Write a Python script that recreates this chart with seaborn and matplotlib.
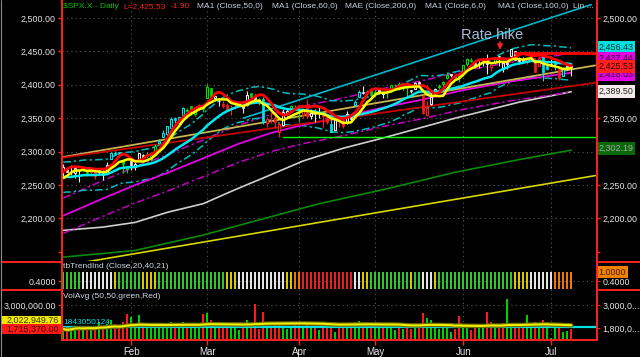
import numpy as np
import pandas as pd
import matplotlib
matplotlib.use("Agg")
import matplotlib.pyplot as plt
from matplotlib.lines import Line2D
from matplotlib.patches import Rectangle
import seaborn as sns

# ------------------------------------------------------------------ data
start_date, end_date = "2017-01-06", "2017-07-11"
holidays = ["2017-01-16", "2017-02-20", "2017-04-14", "2017-05-29", "2017-07-04"]

# values before the first visible bar (warm-up of the short averages)
prior_closes = [2191.08, 2191.95, 2204.71, 2212.23, 2241.35, 2246.19, 2259.53, 2256.96,
                2271.72, 2253.28, 2262.03, 2258.07, 2262.53, 2270.76, 2265.18, 2260.96,
                2263.79, 2268.88, 2249.92, 2249.26, 2238.83, 2257.83, 2270.75, 2269.00]
prior_highs = [2253.6, 2263.9, 2272.8, 2271.8]

opens = [2271.1, 2273.6, 2269.0, 2268.6, 2271.1, 2272.7, 2269.1, 2269.1, 2271.9, 2269.0,
         2267.8, 2267.9, 2288.9, 2298.6, 2299.0, 2286.0, 2274.0,
         2285.6, 2276.7, 2288.5, 2294.3, 2295.9, 2289.6, 2296.7, 2312.7, 2321.7, 2326.1,
         2335.6, 2349.6, 2343.0, 2354.9, 2361.1, 2367.5, 2355.7, 2366.1, 2366.1,
         2380.1, 2394.8, 2380.9, 2375.2, 2370.7, 2369.8, 2363.5, 2372.5, 2371.6, 2368.6,
         2370.3, 2387.7, 2383.7, 2378.2, 2379.3, 2343.0, 2345.1, 2350.4, 2329.1, 2339.8,
         2356.5, 2361.3, 2364.8,
         2362.3, 2354.8, 2366.6, 2353.8, 2356.6, 2357.2, 2353.9, 2352.1, 2341.9, 2332.6,
         2342.5, 2346.8, 2342.7, 2354.7, 2370.3, 2381.5, 2389.0, 2389.7, 2393.7,
         2388.5, 2391.1, 2386.5, 2389.8, 2392.4, 2399.9, 2401.6, 2396.8, 2394.8, 2392.4,
         2394.0, 2404.6, 2383.0, 2354.7, 2371.4, 2387.2, 2397.0, 2401.4, 2409.5, 2414.5,
         2411.7, 2415.6,
         2415.6, 2431.3, 2437.8, 2431.9, 2432.0, 2434.3, 2436.4, 2425.9, 2434.2, 2443.8,
         2424.1, 2431.2, 2442.5, 2450.7, 2439.3, 2437.4, 2434.7, 2443.3, 2436.3, 2428.7,
         2442.4, 2429.2,
         2431.4, 2430.9, 2423.4, 2413.5, 2424.5, 2427.4]
highs = [2282.1, 2275.5, 2279.3, 2275.3, 2271.8, 2278.7, 2272.1, 2272.0, 2274.3, 2276.1,
         2271.8, 2284.6, 2299.6, 2300.4, 2299.0, 2286.0, 2279.1,
         2289.1, 2283.9, 2298.3, 2296.2, 2299.4, 2295.9, 2311.1, 2319.2, 2331.6, 2337.6,
         2351.3, 2351.3, 2351.2, 2366.7, 2365.1, 2368.3, 2367.3, 2371.5, 2367.8,
         2401.0, 2394.8, 2383.9, 2378.8, 2375.1, 2373.1, 2369.1, 2376.9, 2374.4, 2368.6,
         2390.0, 2388.1, 2385.7, 2379.6, 2381.9, 2351.8, 2358.9, 2356.2, 2344.9, 2363.8,
         2363.4, 2370.4, 2370.4,
         2365.9, 2360.5, 2378.4, 2364.2, 2363.8, 2366.4, 2355.2, 2352.7, 2348.3, 2349.1,
         2348.4, 2352.6, 2361.4, 2356.2, 2377.0, 2392.5, 2398.2, 2392.1, 2393.7,
         2394.5, 2392.9, 2389.8, 2391.4, 2399.3, 2401.4, 2403.9, 2399.7, 2395.7, 2392.9,
         2404.1, 2405.8, 2384.9, 2375.7, 2389.1, 2395.5, 2400.9, 2405.6, 2418.7, 2416.7,
         2415.3, 2416.0,
         2430.1, 2440.2, 2439.5, 2436.2, 2435.3, 2439.6, 2446.2, 2430.4, 2441.5, 2443.8,
         2433.95, 2433.15, 2453.8, 2450.7, 2442.2, 2441.6, 2441.4, 2450.4, 2440.2, 2442.97,
         2442.7, 2432.7,
         2439.2, 2435.8, 2424.3, 2426.9, 2432.0, 2429.3]
lows = [2264.1, 2268.8, 2265.3, 2260.8, 2254.3, 2271.5, 2262.8, 2263.4, 2258.4, 2265.0,
        2257.0, 2266.7, 2288.9, 2294.3, 2291.6, 2268.0, 2267.2,
        2271.7, 2271.7, 2287.9, 2288.6, 2290.2, 2285.4, 2296.6, 2311.1, 2321.4, 2322.2,
        2334.8, 2338.9, 2339.6, 2354.4, 2358.3, 2355.1, 2352.9, 2361.9, 2358.9,
        2380.1, 2380.2, 2375.1, 2368.0, 2365.5, 2361.0, 2354.5, 2363.0, 2368.5, 2358.2,
        2368.9, 2377.2, 2377.6, 2369.7, 2341.9, 2336.5, 2342.1, 2335.7, 2322.3, 2337.6,
        2352.9, 2358.6, 2362.6,
        2344.7, 2350.7, 2350.5, 2348.9, 2344.5, 2350.9, 2337.3, 2341.2, 2328.9, 2332.5,
        2337.3, 2335.1, 2340.9, 2344.5, 2369.2, 2381.2, 2386.8, 2382.7, 2382.4,
        2382.4, 2385.8, 2379.8, 2380.3, 2389.4, 2393.6, 2392.4, 2392.8, 2381.7, 2387.6,
        2393.9, 2396.1, 2356.2, 2352.7, 2370.4, 2386.9, 2393.9, 2398.0, 2408.0, 2412.2,
        2409.4, 2403.6,
        2413.5, 2427.7, 2434.3, 2428.1, 2424.8, 2427.4, 2415.7, 2420.0, 2431.3, 2428.3,
        2418.5, 2422.9, 2441.8, 2436.6, 2430.7, 2433.3, 2431.1, 2437.6, 2419.4, 2428.0,
        2405.7, 2421.6,
        2428.7, 2421.9, 2407.7, 2413.5, 2422.3, 2412.8]
closes = [2276.98, 2268.90, 2268.90, 2275.32, 2270.44, 2274.64, 2267.89, 2271.89, 2263.69, 2271.31,
          2265.20, 2280.07, 2298.37, 2296.68, 2294.69, 2280.90, 2278.87,
          2279.55, 2280.85, 2297.42, 2292.56, 2293.08, 2294.67, 2307.87, 2316.10, 2328.25, 2337.58,
          2349.25, 2347.22, 2351.16, 2365.38, 2362.82, 2363.81, 2367.34, 2369.75, 2363.64,
          2395.96, 2381.92, 2383.12, 2375.31, 2368.39, 2362.98, 2364.87, 2372.60, 2373.47, 2365.45,
          2385.26, 2381.38, 2378.25, 2373.47, 2344.02, 2348.45, 2345.96, 2343.98, 2341.59, 2358.57,
          2361.13, 2368.06, 2362.72,
          2358.84, 2360.16, 2352.95, 2357.49, 2355.54, 2357.16, 2353.78, 2344.93, 2328.95, 2349.01,
          2342.19, 2338.17, 2355.84, 2348.69, 2374.15, 2388.61, 2387.45, 2388.77, 2384.20,
          2388.33, 2391.17, 2388.13, 2389.52, 2399.29, 2399.38, 2396.92, 2399.63, 2394.44, 2390.90,
          2402.32, 2400.67, 2357.03, 2365.72, 2381.73, 2394.02, 2398.42, 2404.39, 2415.07, 2415.82,
          2412.91, 2411.80,
          2430.06, 2439.07, 2436.10, 2429.33, 2433.14, 2433.79, 2431.77, 2429.39, 2440.35, 2437.92,
          2432.46, 2433.15, 2453.46, 2437.03, 2435.61, 2434.50, 2438.30, 2439.07, 2419.38, 2440.69,
          2419.70, 2423.41,
          2429.01, 2432.54, 2409.75, 2425.18, 2427.43, 2425.53]
# volume in millions
volumes_m = [1.75, 1.65, 1.80, 1.90, 1.85, 1.70, 1.90, 1.75, 1.80, 2.10,
             1.85, 2.00, 2.20, 2.00, 1.80, 2.10, 2.55,
             2.35, 2.00, 2.45, 1.80, 1.90, 1.85, 2.00, 1.90, 1.85, 1.95,
             2.10, 2.00, 2.05, 2.10, 1.90, 2.00, 1.95, 1.80, 2.55,
             2.60, 2.20, 1.90, 1.85, 1.80, 1.90, 2.00, 2.00, 1.70, 1.90,
             2.20, 1.90, 3.05, 1.75, 2.65, 2.10, 1.90, 1.95, 2.00, 1.90,
             1.75, 1.80, 2.10,
             2.00, 1.80, 2.10, 1.80, 1.80, 1.70, 1.85, 1.80, 1.90, 1.60,
             1.80, 1.85, 1.90, 1.95, 2.10, 2.15, 2.10, 2.00, 2.05,
             1.85, 1.95, 1.90, 2.00, 1.80, 1.70, 1.90, 1.75, 1.85, 1.75,
             1.80, 1.85, 2.60, 2.30, 2.20, 1.80, 1.75, 1.85, 1.90, 1.60,
             1.75, 2.40,
             1.90, 1.95, 1.70, 1.80, 1.85, 1.90, 2.65, 2.10, 1.90, 2.00,
             2.05, 3.30, 1.80, 1.80, 1.90, 1.85, 2.45, 1.90, 2.10, 1.85,
             2.20, 1.95,
             1.30, 1.95, 1.80, 1.60, 1.65, 1.75]
vol_ref_level_m = 1.843050124

# paint-bar colours of the candles (run lengths)
candle_runs = [("W", 5), ("G", 2), ("R", 2), ("W", 3), ("C", 3), ("G", 2), ("W", 4), ("G", 3),
               ("C", 7), ("G", 7), ("W", 2), ("R", 4), ("W", 3), ("G", 1), ("W", 1), ("G", 1),
               ("C", 1), ("R", 4), ("W", 2), ("G", 3), ("R", 2), ("W", 3), ("R", 2), ("C", 1),
               ("W", 1), ("R", 2), ("W", 2), ("C", 2), ("W", 1), ("G", 3), ("W", 2), ("G", 6),
               ("W", 3), ("R", 2), ("W", 2), ("G", 3), ("W", 1), ("G", 5), ("W", 4), ("R", 1),
               ("G", 1), ("W", 7), ("R", 4), ("C", 2), ("W", 1), ("C", 1), ("R", 1), ("C", 1),
               ("W", 2)]
# tbTrendInd colours (run lengths)
trend_runs = [("G", 5), ("W", 8), ("Y", 1), ("G", 6), ("Y", 4), ("G", 17), ("Y", 3), ("W", 12),
              ("Y", 2), ("O", 2), ("R", 13), ("W", 2), ("Y", 2), ("G", 10), ("Y", 1), ("G", 2),
              ("W", 3), ("Y", 1), ("G", 19), ("Y", 4), ("W", 6), ("O", 5)]

# long averages (bar index, value)
ma50_idx = [0, 10, 18, 26, 35, 44, 52, 60, 70, 80, 90, 100, 112, 127]
ma50_val = [2204, 2230, 2250, 2268, 2290, 2312, 2328, 2340, 2352, 2366, 2378, 2392, 2405, 2418.03]
ma100_idx = [0, 10, 18, 26, 35, 43, 51, 60, 70, 81, 98, 114, 127]
ma100_val = [2182, 2187, 2194, 2209, 2222, 2243, 2263, 2286, 2305, 2322, 2350, 2374, 2389.50]
ma200_idx = [0, 18, 35, 51, 64, 80, 98, 114, 127]
ma200_val = [2142, 2152, 2175, 2201, 2222, 2243, 2269, 2288, 2302.19]

# straight trend / regression lines (bar index, value)
reg_idx = [0, 133]
reg_lower_val = [2129, 2264]
reg_mid_val = [2292, 2429]
reg_red_val = [2291, 2403]
cyan_up_idx = [45, 132]
cyan_up_val = [2350, 2520]
support_level, support_from = 2322, 55
hike_level, hike_from = 2447, 113
rate_hike_bar = 109

header_items = [("\\$SPX.X - Daily", "#00c800"), ("L=2,425.53", "#ff2020"), ("-1.90", "#ff2020"),
                ("MA1 (Close,50,0)", "#c8d2dc"), ("MA1 (Close,60,0)", "#c8d2dc"),
                ("MAE (Close,200,0)", "#c8d2dc"), ("MA1 (Close,6,0)", "#c8d2dc"),
                ("MA1 (Close,100,0)", "#c8d2dc"), ("Lin ...", "#c8d2dc")]
header_x = [63, 123, 171, 197, 272, 345, 425, 498, 573]

price_ticks = [2150, 2200, 2250, 2300, 2350, 2400, 2450, 2500]
left_price_labels = ["", "2,200.00", "2,250.00", "2,300.00", "2,350.00", "2,400.00", "2,450.00", "2,500.00"]
right_price_labels = ["", "2,200.00", "2,250.00", "", "2,350.00", "", "", "2,500.00"]
right_boxes = [(2456.43, "2,456.43", "#00e0e0", "#003838"),
               (2439.0, "2,437.44", "#e000e0", "#300030"),
               (2415.5, "2,418.03", "#e000e0", "#300030"),
               (2427.0, "2,425.53", "#ff2020", "#3a0000"),
               (2389.50, "2,389.50", "#f4ecec", "#202020"),
               (2305.0, "2,302.19", "#0a6a0a", "#a8a8a8")]

# ------------------------------------------------------------------ derived
dates = pd.bdate_range(start_date, end_date, freq="C", holidays=holidays)
n = len(closes)
x = np.arange(n)
month_idx, month_lab = [], []
for i in range(1, len(dates)):
    if dates[i].month != dates[i - 1].month:
        month_idx.append(i)
        month_lab.append(dates[i].strftime("%b"))

c_all = pd.Series(prior_closes + closes)
sma6 = c_all.rolling(6).mean().to_numpy()[-n:]
sma18 = c_all.rolling(18).mean().to_numpy()[-n:]
red_ma = (pd.Series(prior_highs + highs).rolling(3).mean()
          .rolling(3).mean().to_numpy()[-n:])
candle_colors = "".join(k * m for k, m in candle_runs)
trend_colors = "".join(k * m for k, m in trend_runs)
vols = np.array(volumes_m) * 1e6
vol_avg = pd.Series(vols).rolling(50, min_periods=1).mean().to_numpy()
prev_close = np.array([prior_closes[-1]] + closes[:-1])

# ------------------------------------------------------------------ style
sns.set_style("dark", {"axes.facecolor": "black", "figure.facecolor": "black", "axes.grid": False})
plt.rcParams["font.family"] = ["Liberation Sans", "DejaVu Sans"]
plt.rcParams["axes.unicode_minus"] = False
plt.rcParams["patch.force_edgecolor"] = False

W, H = 640, 357
fig = plt.figure(figsize=(6.4, 3.57), dpi=100, facecolor="black")


def frect(x0, y0, x1, y1):
    return [x0 / W, 1 - y1 / H, (x1 - x0) / W, (y1 - y0) / H]


ax = fig.add_axes(frect(62, 0, 596, 261))
axt = fig.add_axes(frect(62, 261, 596, 289))
axv = fig.add_axes(frect(62, 289, 596, 339))
XL = (-0.3, 133.2)
YL_MAIN = (2136.2, 2526.9)
YL_T = (-0.08, 1.70)
YL_V = (1.226e6, 3.83e6)

RED = "#ff2020"
LBL = "#e6e6e6"
GRID = "#5a5a5a"
FS = 6.4
HFS = 6.05
dot = (0, (1, 3))
dashdot = (0, (5, 2, 1.5, 2))


def line(a, xs, ys, **kw):
    sns.lineplot(x=np.asarray(xs, float), y=np.asarray(ys, float), ax=a,
                 estimator=None, sort=False, legend=False, **kw)


for a in (ax, axt, axv):
    a.set_facecolor("black")
    for s in a.spines.values():
        s.set_visible(False)
    for mi in month_idx:
        a.axvline(mi, color=GRID, lw=0.8, ls=dot, zorder=0.5)

# ------------------------------------------------------------------ main panel
for lv in price_ticks[1:]:
    ax.axhline(lv, color=GRID, lw=0.8, ls=dot, zorder=0.5)

ma50_arr = np.array(ma50_val)
line(ax, ma200_idx, ma200_val, color="#0a8a0a", lw=1.2, zorder=2)
line(ax, ma100_idx, ma100_val, color="#cfcfcf", lw=1.2, zorder=2)
line(ax, reg_idx, reg_lower_val, color="#d8d800", lw=1.2, zorder=2)
line(ax, ma50_idx, ma50_arr * 1.012, color="#c400c4", lw=1.1, ls=dashdot, zorder=2)
line(ax, ma50_idx, ma50_arr * 0.988, color="#c400c4", lw=1.1, ls=dashdot, zorder=2)
line(ax, ma50_idx, ma50_arr, color="#e600e6", lw=1.3, zorder=2.1)
line(ax, x, sma18 * 1.01, color="#00bcbc", lw=1.1, ls=dashdot, zorder=2)
line(ax, x, sma18 * 0.99, color="#00bcbc", lw=1.1, ls=dashdot, zorder=2)
line(ax, reg_idx, reg_mid_val, color="#c8b450", lw=1.3, zorder=2.2)
line(ax, reg_idx, reg_red_val, color="#c80000", lw=1.3, zorder=2.2)
line(ax, cyan_up_idx, cyan_up_val, color="#00b8c8", lw=1.2, zorder=2.2)
line(ax, [support_from, XL[1]], [support_level, support_level], color="#00ff00", lw=1.0, zorder=2.2)

cmap = {"W": "#e8e8e8", "G": "#00e000", "C": "#00e5e5", "R": "#ff1a1a"}
o, c, h, l = map(np.array, (opens, closes, highs, lows))
cc = np.array([cmap[k] for k in candle_colors])
ax.vlines(x, l, h, colors=cc, lw=0.8, zorder=3)
up = c >= o
body_lo = np.minimum(o, c)
body_h = np.maximum(np.abs(c - o), 0.8)
ax.bar(x[up], body_h[up], bottom=body_lo[up], width=0.62, facecolor="black",
       edgecolor=cc[up], linewidth=0.8, zorder=3.2)
ax.bar(x[~up], body_h[~up], bottom=body_lo[~up], width=0.62, color=cc[~up],
       edgecolor=cc[~up], linewidth=0.5, zorder=3.2)

line(ax, x, sma18, color="#00e8f0", lw=1.8, zorder=4)
line(ax, x, red_ma, color="#ff0000", lw=2.0, zorder=4.2)
line(ax, x, sma6, color="#ffff00", lw=1.8, zorder=4.4)
line(ax, [hike_from, XL[1]], [hike_level, hike_level], color="#ff0000", lw=2.0, zorder=4.2)

ax.text(rate_hike_bar - 1.7, 2474, "Rate hike", color="#a8bcd8", fontsize=10.5,
        ha="center", va="center", zorder=6)
ax.annotate("", xy=(rate_hike_bar + 0.2, 2448), xytext=(rate_hike_bar + 0.2, 2468),
            arrowprops=dict(arrowstyle="-|>", color=RED, lw=1.3, mutation_scale=7), zorder=6)

ax.set_xlim(*XL)
ax.set_ylim(*YL_MAIN)
ax.set_yticks(price_ticks)
ax.set_yticklabels(left_price_labels)
ax.tick_params(axis="y", direction="out", length=3, width=1, color=RED, labelcolor=LBL,
               labelsize=FS, pad=1.5, left=True, right=False)
ax.tick_params(axis="x", bottom=False, labelbottom=False)
ax.set_xlabel("")
ax.set_ylabel("")

ax2 = ax.twinx()
ax2.set_ylim(*YL_MAIN)
ax2.set_xlim(*XL)
ax2.set_yticks(price_ticks)
ax2.set_yticklabels(right_price_labels)
ax2.tick_params(axis="y", direction="out", length=3, width=1, color=RED, labelcolor=LBL,
                labelsize=FS, pad=1.5)
for s in ax2.spines.values():
    s.set_visible(False)


def rbox(a, val, text, fc, tc, fs=FS):
    a.text(1.004, val, text, transform=a.get_yaxis_transform(), fontsize=fs, color=tc,
           va="center", ha="left", clip_on=False, zorder=10,
           bbox=dict(boxstyle="square,pad=0.22", fc=fc, ec="none"))


for val, txt, fc, tc in right_boxes:
    rbox(ax2, val, txt, fc, tc)

# ------------------------------------------------------------------ trend panel
tmap = {"G": "#2ec82e", "W": "#e4e4e4", "Y": "#d8c800", "O": "#f07800", "R": "#e82020"}
axt.axhline(0.4, color=GRID, lw=0.8, ls=dot, zorder=0.5)
tcols = [tmap[k] for k in trend_colors]
axt.bar(x, 1.0 - YL_T[0], bottom=YL_T[0], width=0.45, color=tcols,
        edgecolor="none", linewidth=0, zorder=2)
axt.set_xlim(*XL)
axt.set_ylim(*YL_T)
axt.set_yticks([0.4])
axt.set_yticklabels(["0.4000"])
axt.tick_params(axis="y", direction="out", length=3, color=RED, labelcolor=LBL,
                labelsize=FS, pad=1.5)
axt.tick_params(axis="x", bottom=False, labelbottom=False)
axt2 = axt.twinx()
axt2.set_ylim(*YL_T)
axt2.set_yticks([0.4])
axt2.set_yticklabels(["0.4000"])
axt2.tick_params(axis="y", direction="out", length=3, color=RED, labelcolor=LBL,
                 labelsize=FS, pad=1.5)
for s in axt2.spines.values():
    s.set_visible(False)
rbox(axt2, 1.0, "1.0000", "#f08000", "#402000")

# ------------------------------------------------------------------ volume panel
axv.axhline(3.0e6, color=GRID, lw=0.8, ls=dot, zorder=0.5)
vcol = np.where(c >= prev_close, "#00d000", "#ff1a1a")
axv.bar(x, vols - YL_V[0], bottom=YL_V[0], width=0.45, color=vcol,
        edgecolor="none", linewidth=0, zorder=2)
axv.axhline(vol_ref_level_m * 1e6, color="#00e0e0", lw=1.6, zorder=3)
line(axv, x, vol_avg, color="#6b6b00", lw=3.2, zorder=3.5)
line(axv, x, vol_avg, color="#f0f000", lw=1.5, zorder=3.6)
axv.set_xlim(*XL)
axv.set_ylim(*YL_V)
axv.set_yticks([3.0e6])
axv.set_yticklabels(["3,000,000.00"])
axv.tick_params(axis="y", direction="out", length=3, color=RED, labelcolor=LBL,
                labelsize=FS, pad=1.5)
axv.set_xticks(month_idx)
axv.set_xticklabels(month_lab)
axv.tick_params(axis="x", direction="out", length=4, width=1, color=RED, labelcolor=LBL,
                labelsize=7, pad=2, bottom=True)
axv.set_xlabel("")
axv.set_ylabel("")
axv2 = axv.twinx()
axv2.set_ylim(*YL_V)
axv2.set_yticks([3.0e6, 1.8e6])
axv2.set_yticklabels(["3,000,0...", "1,800,0..."])
axv2.tick_params(axis="y", direction="out", length=3, color=RED, labelcolor=LBL,
                 labelsize=FS, pad=1.5)
for s in axv2.spines.values():
    s.set_visible(False)

# ------------------------------------------------------------------ frame and texts


def fline(x0, y0, x1, y1, color=RED, lw=1.4):
    fig.add_artist(Line2D([x0 / W, x1 / W], [1 - y0 / H, 1 - y1 / H],
                          transform=fig.transFigure, color=color, lw=lw, zorder=5))


fline(1, 0, 1, 357, color="#8a8a8a", lw=0.8)
fline(61.5, 0, 61.5, 340)
fline(596.5, 0, 596.5, 340)
fline(2, 261.5, 61.5, 261.5)
fline(596.5, 261.5, 640, 261.5)
fline(2, 289.5, 61.5, 289.5)
fline(596.5, 289.5, 640, 289.5)
fline(61.5, 339.5, 596.5, 339.5)

# left value boxes of the volume pane
fig.add_artist(Rectangle((2 / W, 1 - 325 / H), 59 / W, 9 / H, transform=fig.transFigure,
                         fc="#f0e800", ec="none", zorder=6))
fig.text(59 / W, 1 - 320 / H, "2,022,949.76", color="#3a3a00", fontsize=FS,
         ha="right", va="center", zorder=7)
fig.add_artist(Rectangle((2 / W, 1 - 334 / H), 59 / W, 10 / H, transform=fig.transFigure,
                         fc="#ff1a1a", ec="none", zorder=8))
fig.text(59 / W, 1 - 329 / H, "1,715,370.00", color="#3a0000", fontsize=FS,
         ha="right", va="center", zorder=9)

for xp, (txt, col) in zip(header_x, header_items):
    fig.text(xp / W, 1 - 7 / H, txt, color=col, fontsize=HFS, ha="left", va="center", zorder=8)
fig.text(63 / W, 1 - 266.5 / H, "tbTrendInd (Close,20,40,21)", color="#d0d8e0",
         fontsize=HFS, ha="left", va="center", zorder=8)
fig.text(63 / W, 1 - 296 / H, "VolAvg (50,50,green,Red)", color="#d0d8e0",
         fontsize=HFS, ha="left", va="center", zorder=8)
fig.text(63 / W, 1 - 322 / H, "1843050124", color="#00e0e0",
         fontsize=HFS, ha="left", va="center", zorder=8)

fig.savefig("out.png", dpi=100, facecolor="black")
